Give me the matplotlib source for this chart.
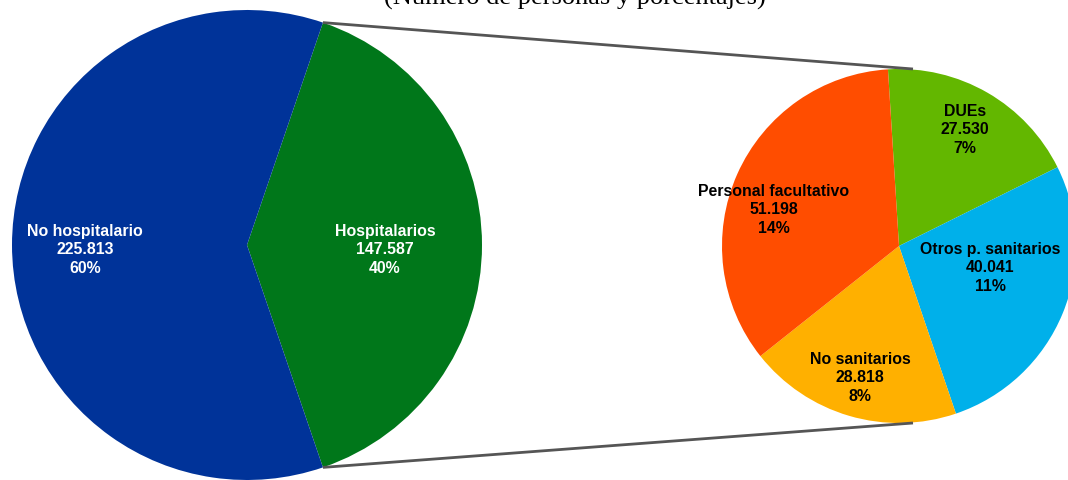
import numpy as np
import matplotlib.pyplot as plt

# left pie: total staff
main_labels = ['Hospitalarios', 'No hospitalario']
main_values = [147587, 225813]
main_colors = ['#00771A', '#003399']

# right pie: breakdown of hospital staff
sub_labels = ['DUEs', 'Otros p. sanitarios', 'No sanitarios', 'Personal facultativo']
sub_values = [27530, 40041, 28818, 51198]
sub_colors = ['#63B700', '#00B0EA', '#FFB000', '#FF4D00']

title = '(Número de personas y porcentajes)'

W, H = 1068, 481
fig = plt.figure(figsize=(W / 100, H / 100), dpi=100)
ax = fig.add_axes([0, 0, 1, 1])
ax.set_xlim(0, W)
ax.set_ylim(0, H)
ax.set_aspect('equal')
ax.axis('off')

total = sum(main_values)
frac = main_values[0] / total

# big pie, hospital slice centred on the right side
c1, r1 = (247, 235), 235
ax.pie(main_values, colors=main_colors, startangle=-frac * 180,
       center=c1, radius=r1, wedgeprops=dict(linewidth=0), frame=True)

# small pie
c2, r2 = (899, 234), 177
sub_frac = sub_values[0] / sum(sub_values)
ax.pie(sub_values, colors=sub_colors, startangle=60 + sub_frac * 180,
       counterclock=False, center=c2, radius=r2,
       wedgeprops=dict(linewidth=0), frame=True)
ax.set_xlim(0, W)
ax.set_ylim(0, H)
ax.axis('off')

# connector lines
half = np.deg2rad(frac * 180)
for s in (1, -1):
    x0 = c1[0] + r1 * np.cos(half)
    y0 = c1[1] + s * r1 * np.sin(half)
    x1 = c2[0] + 14
    y1 = c2[1] + s * r2
    ax.plot([x0, x1], [y0, y1], color='#555555', lw=2, solid_capstyle='butt')

def fmt(v):
    return f'{v:,}'.replace(',', '.')

kw = dict(ha='center', va='center', fontsize=11.4, fontweight='bold',
          family='Liberation Sans', linespacing=1.3)

# labels on the big pie
main_pos = [(385, 231), (85, 231)]
for lab, v, (x, y) in zip(main_labels, main_values, main_pos):
    ax.text(x, y, f'{lab}\n{fmt(v)}\n{v / total:.0%}', color='white', **kw)

# labels on the small pie
sub_pos = [(965, 351), (990, 213), (860, 103), (774, 271)]
for lab, v, (x, y) in zip(sub_labels, sub_values, sub_pos):
    ax.text(x, y, f'{lab}\n{fmt(v)}\n{v / total:.0%}', color='black', **kw)

ax.text(575, H - 5, title, ha='center', va='baseline', fontsize=19,
        family='Liberation Serif', color='black')

fig.savefig('out.png', dpi=100)
